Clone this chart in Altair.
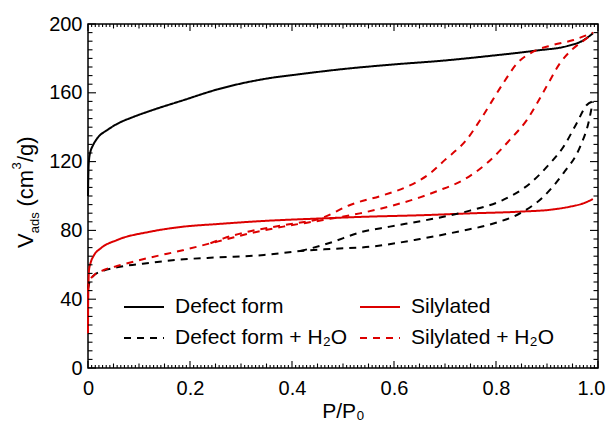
import altair as alt
import pandas as pd

FONT = "Liberation Sans"
RED = "#dc0000"

SERIES = ["Defect form", "Silylated", "Defect form + H₂O", "Silylated + H₂O"]
COLORS = ["#000000", RED, "#000000", RED]
DASHES = [[1, 0], [1, 0], [7, 6], [7, 6]]
# legend entries fill column by column: column 1 = first two, column 2 = last two
LEGEND_ORDER = ["Defect form", "Defect form + H₂O", "Silylated", "Silylated + H₂O"]

# Defect form (solid black)
defect_p = [0.0, 0.0005, 0.001, 0.002, 0.005, 0.009, 0.018, 0.038, 0.057, 0.09, 0.123, 0.188,
            0.254, 0.345, 0.42, 0.5, 0.6, 0.7, 0.78, 0.88, 0.94, 0.97, 0.99]
defect_v = [100, 110, 116, 121, 126, 129, 133.5, 138.4, 141.9, 146.1, 149.6, 155.8,
            162, 168, 171, 173.8, 176.5, 178.8, 181.2, 184.6, 187.2, 190.3, 194.6]

# Silylated (solid red)
sil_p = [0.0, 0.0003, 0.001, 0.002, 0.005, 0.012, 0.025, 0.057, 0.123, 0.188, 0.254, 0.345,
         0.461, 0.55, 0.651, 0.749, 0.847, 0.912, 0.945, 0.971, 0.99]
sil_v = [20, 38, 50, 57, 61, 65.7, 69.6, 74.4, 79.3, 82.2, 83.7, 85.5,
         87, 88, 88.8, 89.9, 90.9, 92.2, 93.8, 95.7, 98.2]

# Defect form + H2O (dashed black): adsorption and desorption branches
dh_ads_p = [0.0, 0.003, 0.012, 0.031, 0.057, 0.123, 0.188, 0.254, 0.345, 0.416, 0.475, 0.553,
            0.651, 0.729, 0.795, 0.847, 0.893, 0.932, 0.965, 0.981, 0.99]
dh_ads_v = [46, 50, 54, 56.6, 58.5, 61.2, 63.2, 64.3, 65.7, 68, 69.2, 70.5,
            75, 79.5, 84, 89.9, 99.6, 113.2, 128.7, 142.2, 155]
dh_des_p = [0.99, 0.978, 0.958, 0.932, 0.906, 0.867, 0.814, 0.749, 0.66, 0.592, 0.533, 0.475, 0.44, 0.416]
dh_des_v = [155, 152.9, 142.2, 128.5, 119, 107.4, 97.7, 91.5, 85.8, 82.2, 78.8, 72.8, 69.8, 68]

# Silylated + H2O (dashed red): adsorption and desorption branches
sh_ads_p = [0.0, 0.002, 0.012, 0.031, 0.057, 0.123, 0.188, 0.24, 0.267, 0.318, 0.383, 0.461,
            0.533, 0.598, 0.651, 0.684, 0.736, 0.782, 0.827, 0.86, 0.899, 0.925, 0.952, 0.978, 0.99]
sh_ads_v = [45, 50, 54, 57, 59.3, 64.3, 68.6, 72.5, 74.5, 78.3, 82.2, 86,
            89.9, 94.5, 99.2, 102.8, 109.3, 119, 132.6, 144, 163.6, 177, 185.9, 191.7, 195]
sh_des_p = [0.99, 0.952, 0.912, 0.873, 0.841, 0.814, 0.769, 0.742, 0.7, 0.67, 0.63, 0.579, 0.514,
            0.461, 0.383, 0.318, 0.267, 0.24]
sh_des_v = [195, 190.7, 187.8, 183.9, 177, 165.5, 144.2, 132.6, 121, 113, 106, 100.5, 94.8,
            87.5, 83, 79.5, 75.5, 72.5]

X_LABELS = [0, 0.2, 0.4, 0.6, 0.8, 1.0]
Y_LABELS = [0, 40, 80, 120, 160, 200]

rows = []


def add(name, branch, ps, vs):
    for p, v in zip(ps, vs):
        rows.append({"series": name, "branch": name + "|" + branch, "p": p, "v": v})


add(SERIES[0], "ads", defect_p, defect_v)
add(SERIES[1], "ads", sil_p, sil_v)
add(SERIES[2], "ads", dh_ads_p, dh_ads_v)
add(SERIES[2], "des", dh_des_p, dh_des_v)
add(SERIES[3], "ads", sh_ads_p, sh_ads_v)
add(SERIES[3], "des", sh_des_p, sh_des_v)
df = pd.DataFrame(rows)

W, H = 510, 344
xs = alt.Scale(domain=[0, 1], nice=False, zero=False)
ys = alt.Scale(domain=[0, 200], nice=False, zero=False)

x_axis = alt.Axis(
    orient="bottom", values=X_LABELS, ticks=False, domain=False, grid=False,
    labelFontSize=20, labelFont=FONT, labelColor="black", labelPadding=10, labelFlush=False,
    labelOffset=alt.ConditionalAxisNumber(condition={"test": "datum.value == 1", "value": -7}, value=0),
    labelExpr="datum.value == 0 ? '0' : format(datum.value, '.1f')",
    title="P/P₀", titleFontSize=21, titleFont=FONT, titleFontWeight="normal",
    titleColor="black", titlePadding=2)
y_axis = alt.Axis(
    orient="left", values=Y_LABELS, ticks=False, domain=False, grid=False,
    labelFontSize=20, labelFont=FONT, labelColor="black", labelPadding=6, title=None)

# tick value sets (axis decorations)
x_major = X_LABELS
x_mid = [round(i * 0.05, 4) for i in range(21) if i % 4 != 0]
x_minor = [round(i / 140, 5) for i in range(141) if i % 7 != 0]
y_major = Y_LABELS
y_minor = [i * 5 for i in range(41) if i % 8 != 0]

legend = alt.Legend(
    orient="none", legendX=35, legendY=262, columns=2, title=None, values=LEGEND_ORDER,
    symbolType="stroke", symbolSize=1600, symbolStrokeWidth=2,
    labelFontSize=21, labelFont=FONT, labelColor="black", labelOffset=10,
    columnPadding=8, rowPadding=0, padding=0, labelLimit=400,
)

lines = alt.Chart(df).mark_line(strokeWidth=2, interpolate="monotone").encode(
    x=alt.X("p:Q", scale=xs, axis=x_axis),
    y=alt.Y("v:Q", scale=ys, axis=y_axis),
    color=alt.Color("series:N", scale=alt.Scale(domain=SERIES, range=COLORS), legend=legend),
    strokeDash=alt.StrokeDash("series:N", scale=alt.Scale(domain=SERIES, range=DASHES), legend=legend),
    detail="branch:N",
)


def xticks(vals, L, top):
    y0, y1 = (0, L) if top else (H, H - L)
    return alt.Chart(pd.DataFrame({"p": vals})).mark_rule(color="black", strokeWidth=1.1).encode(
        x=alt.X("p:Q", scale=xs, axis=x_axis), y=alt.value(y0), y2=alt.value(y1))


def yticks(vals, L, right):
    x0, x1 = (W, W - L) if right else (0, L)
    return alt.Chart(pd.DataFrame({"v": vals})).mark_rule(color="black", strokeWidth=1.1).encode(
        y=alt.Y("v:Q", scale=ys, axis=y_axis), x=alt.value(x0), x2=alt.value(x1))


tick_layers = []
for top in (False, True):
    tick_layers += [xticks(x_major, 7, top), xticks(x_mid, 4.5, top), xticks(x_minor, 3, top)]
for right in (False, True):
    tick_layers += [yticks(y_major, 8, right), yticks(y_minor, 4.5, right)]

# rotated y axis title: V_ads (cm^3/g)
pieces = [
    ("V", 22, 0, 0),
    ("ads", 13, 14.7, 6),
    ("(cm", 22, 41.5, 0),
    ("3", 13, 78.5, -12),
    ("/g)", 22, 85.9, 0),
]
title_layers = []
for txt, fs, dx, dy in pieces:
    title_layers.append(
        alt.Chart(pd.DataFrame({"t": [txt]})).mark_text(
            angle=270, align="left", baseline="alphabetic", font=FONT, fontSize=fs,
            color="black", dx=dx, dy=dy,
        ).encode(text="t:N", x=alt.value(-55), y=alt.value(224))
    )

chart = alt.layer(lines, *tick_layers, *title_layers).properties(
    width=W, height=H,
    autosize=alt.AutoSizeParams(type="none"),
    padding={"left": 80, "top": 16, "right": 9, "bottom": 57},
).configure_view(stroke="black", strokeWidth=1.5).configure_axis(grid=False)

chart.save("out.html", embed_options={"renderer": "svg", "actions": False})
